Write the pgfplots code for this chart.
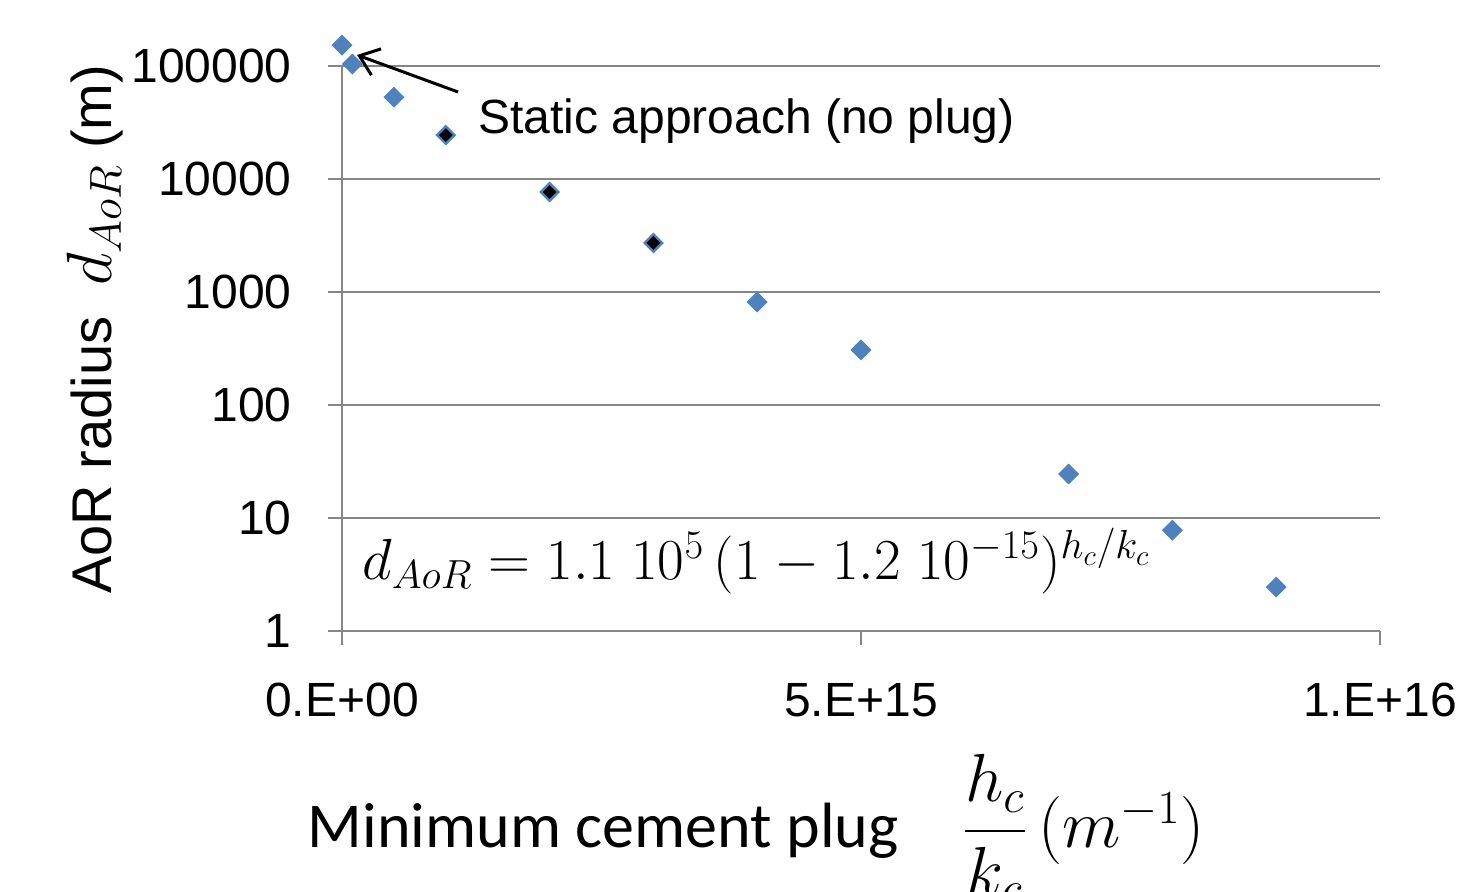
\documentclass[border=0pt]{standalone}
\usepackage{fix-cm}
\usepackage{amsmath}
\usepackage{fontspec}
\setmainfont{Liberation Sans}
\newfontfamily\calibri{Carlito}
\usepackage{pgfplots}
\pgfplotsset{compat=1.18}
\usetikzlibrary{arrows.meta}
\definecolor{xlblue}{RGB}{79,129,189}
\definecolor{gridgray}{RGB}{134,134,134}
\begin{document}
\begin{tikzpicture}
\begin{axis}[
  scale only axis,
  width=519pt, height=282.5pt,
  xmin=0, xmax=1e16,
  ymode=log, ymin=1, ymax=1e5,
  clip=false,
  scaled x ticks=false,
  axis x line*=bottom, axis y line*=left,
  axis line style={gridgray, line width=1pt, -},
  xtick={0,5e15,1e16},
  xticklabels={0.E+00,5.E+15,1.E+16},
  ytick={1,10,100,1000,10000,100000},
  yticklabels={1,10,100,1000,10000,100000},
  yminorticks=false,
  tick align=outside,
  major tick length=7pt,
  tick style={gridgray, line width=1pt},
  ymajorgrids,
  grid style={gridgray, line width=1pt},
  /pgf/number format/assume math mode=true,
  tick label style={font=\fontsize{24}{28}\selectfont},
  yticklabel style={inner sep=0pt, xshift=-18pt},
  xticklabel style={inner sep=0pt, yshift=-19pt},
]
\addplot[only marks, mark=square*, mark size=3.4pt,
  mark options={rotate=45, fill=xlblue, draw=xlblue, line width=0.6pt}]
  coordinates {
  (0,153000) (1e14,104000) (5e14,53000)
  (4e15,816) (5e15,307) (7e15,24.5) (8e15,7.8) (9e15,2.45)
  };
\addplot[only marks, mark=square*, mark size=3.1pt,
  mark options={rotate=45, fill=black, draw=xlblue, line width=1.2pt}]
  coordinates {
  (1e15,24500) (2e15,7670) (3e15,2720)
  };
\node[anchor=base west, inner sep=0pt, font=\fontsize{24}{28}\selectfont]
  at (rel axis cs:0.131,0.881) {Static approach (no plug)};
\draw[black, line width=1.5pt, -{Straight Barb[length=9pt,width=14pt]}]
  (rel axis cs:0.1118,0.954) -- (rel axis cs:0.0145,1.0195);
\node[anchor=base west, inner sep=0pt, font=\fontsize{29}{33}\selectfont]
  at (rel axis cs:0.0193,0.0903)
  {$d_{AoR} = 1.1\;10^{5}\,(1 - 1.2\;10^{-15})^{h_c/k_c}$};
\node[anchor=center, rotate=90, inner sep=0pt, font=\fontsize{28}{32}\selectfont]
  at (axis description cs:-0.238,0.534) {AoR radius \ {\fontsize{32}{36}\selectfont$d_{AoR}$} (m)};
\node[anchor=base, inner sep=0pt, font=\calibri\fontsize{32}{36}\selectfont]
  at (axis description cs:0.399,-0.384)
  {Minimum cement plug\quad {\fontsize{34}{38}\selectfont$\dfrac{h_c}{k_c}\,(m^{-1})$}};
\end{axis}
\pgfresetboundingbox
\path[use as bounding box] (-171pt,-130pt) rectangle (558pt,315.5pt);
\end{tikzpicture}
\end{document}
